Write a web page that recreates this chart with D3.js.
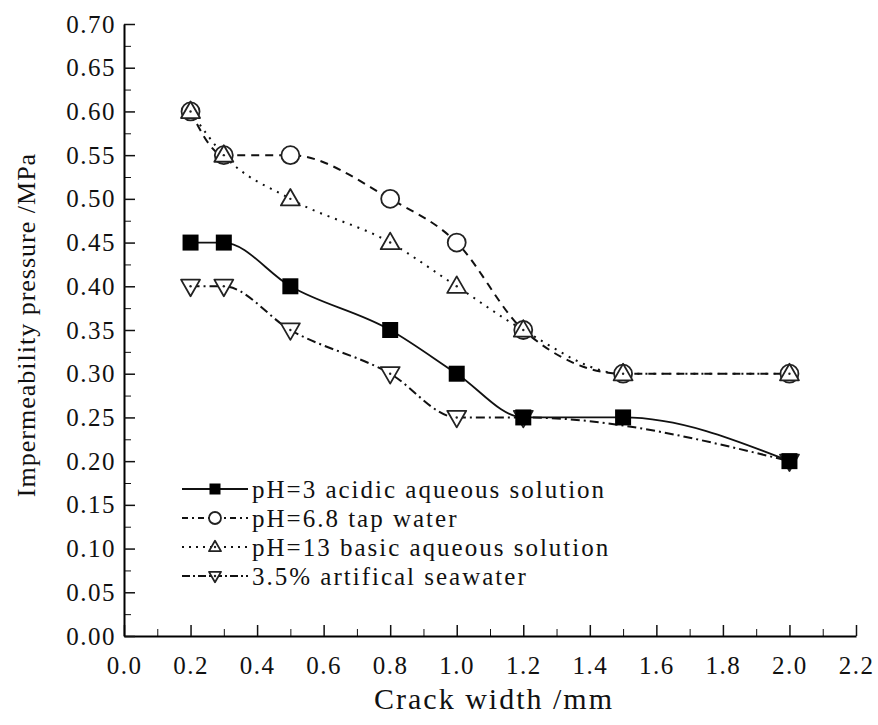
<!DOCTYPE html>
<html>
<head>
<meta charset="utf-8">
<script src="https://cdn.jsdelivr.net/npm/d3@7"></script>
</head>
<body style="margin:0">
<script>
var W = 878, H = 725;
var margin = { top: 24, right: 22, bottom: 89, left: 124 };
var width = W - margin.left - margin.right;
var height = H - margin.top - margin.bottom;
var FONT = "'Liberation Serif'";

// data
var crackWidth = [0.2, 0.3, 0.5, 0.8, 1.0, 1.2, 1.5, 2.0];
var acidic = [0.45, 0.45, 0.40, 0.35, 0.30, 0.25, 0.25, 0.20];
var tapWater = [0.60, 0.55, 0.55, 0.50, 0.45, 0.35, 0.30, 0.30];
var basic = [0.60, 0.55, 0.50, 0.45, 0.40, 0.35, 0.30, 0.30];
var seaX = [0.2, 0.3, 0.5, 0.8, 1.0, 1.2, 2.0];
var seawater = [0.40, 0.40, 0.35, 0.30, 0.25, 0.25, 0.20];
var seriesNames = ["pH=3 acidic aqueous solution", "pH=6.8 tap water",
  "pH=13 basic aqueous solution", "3.5% artifical seawater"];
var xTicks = [0, 0.2, 0.4, 0.6, 0.8, 1.0, 1.2, 1.4, 1.6, 1.8, 2.0, 2.2];
var yTicks = [0, 0.05, 0.10, 0.15, 0.20, 0.25, 0.30, 0.35, 0.40, 0.45, 0.50, 0.55, 0.60, 0.65, 0.70];

var svg = d3.select("body").append("svg")
  .attr("width", W).attr("height", H);

var g = svg.append("g")
  .attr("transform", `translate(${margin.left},${margin.top})`);

var x = d3.scaleLinear().domain([0, 2.2]).range([0, width]);
var y = d3.scaleLinear().domain([0, 0.7]).range([height, 0]);

// minor ticks
g.append("g")
  .attr("transform", `translate(0,${height})`)
  .call(d3.axisBottom(x).tickValues(d3.range(0.1, 2.2, 0.2)).tickSizeInner(-7).tickSizeOuter(0).tickFormat(""))
  .call(a => a.select(".domain").remove());
g.append("g")
  .call(d3.axisLeft(y).tickValues(d3.range(0.025, 0.7, 0.05)).tickSizeInner(-7).tickSizeOuter(0).tickFormat(""))
  .call(a => a.select(".domain").remove());

var xAxis = g.append("g")
  .attr("transform", `translate(0,${height})`)
  .call(d3.axisBottom(x).tickValues(xTicks).tickSizeInner(-11).tickSizeOuter(0)
    .tickPadding(20).tickFormat(d3.format(".1f")));
var yAxis = g.append("g")
  .call(d3.axisLeft(y).tickValues(yTicks).tickSizeInner(-11).tickSizeOuter(0)
    .tickPadding(8).tickFormat(d3.format(".2f")));

[xAxis, yAxis].forEach(function(a) {
  a.attr("font-family", null).attr("font-size", null);
  a.selectAll("text").style("font-family", FONT).style("font-size", "25px")
    .style("letter-spacing", "1.5px").attr("fill", "#111");
  a.select(".domain").attr("stroke-width", 2);
  a.selectAll(".tick line").attr("stroke-width", 1.5);
});
g.selectAll(".tick line").attr("stroke", "#111");

// axis titles
svg.append("text")
  .attr("x", 494).attr("y", 709)
  .attr("text-anchor", "middle")
  .style("font-family", FONT)
  .style("font-size", "30px").style("letter-spacing", "2px")
  .attr("fill", "#111")
  .text("Crack width /mm");

svg.append("text")
  .attr("transform", "translate(35,325) rotate(-90)")
  .attr("text-anchor", "middle")
  .style("font-family", FONT)
  .style("font-size", "26px").style("letter-spacing", "1px")
  .attr("fill", "#111")
  .text("Impermeability pressure /MPa");

var line = d3.line()
  .x(d => x(d[0]))
  .y(d => y(d[1]))
  .curve(d3.curveMonotoneX);

var series = [
  { name: seriesNames[1], xs: crackWidth, ys: tapWater, dash: "8,6", shape: "circle" },
  { name: seriesNames[2], xs: crackWidth, ys: basic, dash: "2,6", shape: "triangle" },
  { name: seriesNames[3], xs: seaX, ys: seawater, dash: "9,4,2,4", shape: "down" },
  { name: seriesNames[0], xs: crackWidth, ys: acidic, dash: null, shape: "square" }
];

function drawMarker(sel, shape, s) {
  if (shape === "square") {
    sel.append("rect").attr("x", -s / 2).attr("y", -s / 2)
      .attr("width", s).attr("height", s).attr("fill", "#000");
  } else if (shape === "circle") {
    sel.append("circle").attr("r", s / 2).attr("fill", "#fff")
      .attr("stroke", "#222").attr("stroke-width", 1.8);
  } else {
    var h = s * 0.87;
    var pts = shape === "triangle"
      ? [[0, -h * 0.6], [s / 2, h * 0.4], [-s / 2, h * 0.4]]
      : [[0, h * 0.6], [s / 2, -h * 0.4], [-s / 2, -h * 0.4]];
    sel.append("path").attr("d", "M" + pts.join("L") + "Z")
      .attr("fill", "#fff").attr("stroke", "#222").attr("stroke-width", 1.8)
      .attr("stroke-linejoin", "round");
    sel.append("circle").attr("r", 1.2).attr("fill", "#222");
  }
}

var sizes = { square: 16, circle: 18, triangle: 19, down: 19 };

series.forEach(function(s) {
  var pts = s.xs.map((v, i) => [v, s.ys[i]]);
  g.append("path").datum(pts)
    .attr("d", line)
    .attr("fill", "none")
    .attr("stroke", "#111")
    .attr("stroke-width", s.shape === "square" ? 1.8 : 2)
    .attr("stroke-dasharray", s.dash);
});

series.forEach(function(s) {
  var pts = s.xs.map((v, i) => [v, s.ys[i]]);
  g.selectAll(null).data(pts).enter().append("g")
    .attr("transform", d => `translate(${x(d[0])},${y(d[1])})`)
    .each(function() { drawMarker(d3.select(this), s.shape, sizes[s.shape]); });
});

// legend
var legendItems = [
  { name: seriesNames[0], dash: null, shape: "square" },
  { name: seriesNames[1], dash: "6,4,2,4", shape: "circle" },
  { name: seriesNames[2], dash: "2,5", shape: "triangle" },
  { name: seriesNames[3], dash: "8,3,2,3", shape: "down" }
];
var legend = svg.append("g").attr("transform", "translate(182,489)");
legendItems.forEach(function(it, i) {
  var row = legend.append("g").attr("transform", `translate(0,${i * 29})`);
  row.append("line").attr("x1", 0).attr("x2", 66).attr("y1", 0).attr("y2", 0)
    .attr("stroke", "#111").attr("stroke-width", 1.8)
    .attr("stroke-dasharray", it.dash);
  var m = row.append("g").attr("transform", "translate(33,0)");
  drawMarker(m, it.shape, it.shape === "square" ? 11 : 12);
  row.append("text").attr("x", 70).attr("y", 0).attr("dy", "0.35em")
    .style("font-family", FONT)
    .style("font-size", "25px").style("letter-spacing", "2px")
    .attr("fill", "#111")
    .text(it.name);
});
</script>
</body>
</html>
